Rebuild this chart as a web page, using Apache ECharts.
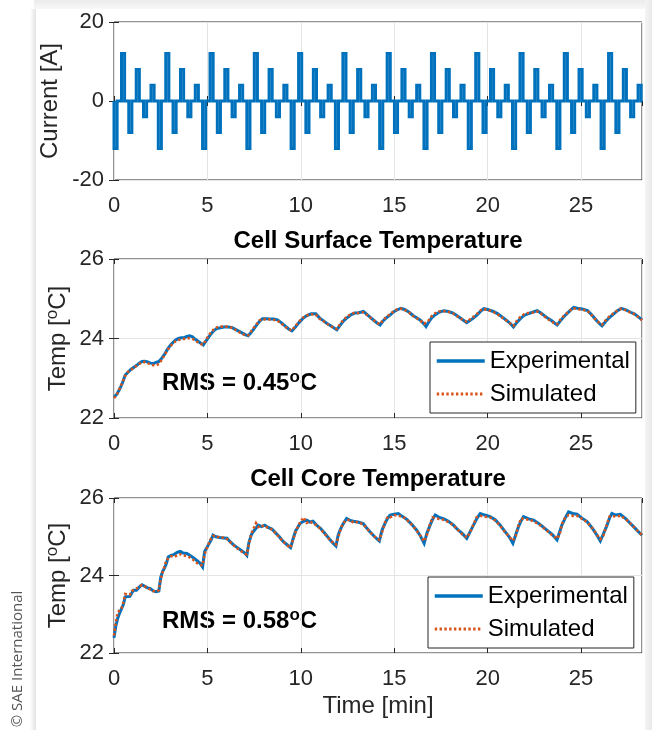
<!DOCTYPE html>
<html><head><meta charset="utf-8">
<script src="https://cdn.jsdelivr.net/npm/echarts@6/dist/echarts.min.js"></script>
<style>html,body{margin:0;padding:0;background:#fff}#c{width:652px;height:730px}</style>
</head><body><div id="c"></div>
<script>
// ---------- DATA ----------
const pulseStart = [0.00,0.40,0.79,1.19,1.58,1.98,2.37,2.77,3.16,3.56,3.95,4.35,
  4.74,5.14,5.53,5.93,6.32,6.72,7.11,7.51,7.90,8.30,8.69,9.09,
  9.48,9.88,10.27,10.67,11.06,11.46,11.85,12.25,12.64,13.04,13.43,13.83,
  14.22,14.62,15.01,15.41,15.80,16.20,16.59,16.99,17.38,17.78,18.17,18.57,
  18.96,19.36,19.75,20.15,20.54,20.94,21.33,21.73,22.12,22.52,22.91,23.31,
  23.70,24.10,24.49,24.89,25.28,25.68,26.07,26.47,26.86,27.26,27.65,28.05];
const pulseAmp = [-12,12,-8,8,-4,4,-12,12,-8,8,-4,4,
  -12,12,-8,8,-4,4,-12,12,-8,8,-4,4,
  -12,12,-8,8,-4,4,-12,12,-8,8,-4,4,
  -12,12,-8,8,-4,4,-12,12,-8,8,-4,4,
  -12,12,-8,8,-4,4,-12,12,-8,8,-4,4,
  -12,12,-8,8,-4,4,-12,12,-8,8,-4,4];
const pulseDuration = 0.167;
const tEnd = 28.26;

const tSurf = [0.00,0.15,0.30,0.45,0.60,0.75,0.90,1.05,1.20,1.35,1.50,1.65,1.80,1.95,2.10,2.25,2.40,2.55,2.70,2.85,
  3.00,3.15,3.30,3.45,3.60,3.75,3.90,4.05,4.20,4.35,4.50,4.65,4.78,4.90,5.05,5.20,5.35,5.50,5.70,5.90,
  6.10,6.30,6.50,6.70,6.90,7.05,7.18,7.30,7.45,7.60,7.80,7.95,8.15,8.35,8.55,8.75,8.95,9.15,9.35,9.52,
  9.70,9.90,10.10,10.30,10.55,10.80,11.00,11.20,11.40,11.60,11.80,11.93,12.10,12.30,12.50,12.70,12.90,13.10,13.35,13.55,
  13.75,13.95,14.10,14.24,14.40,14.60,14.80,15.00,15.20,15.35,15.55,15.80,16.00,16.20,16.40,16.60,16.70,16.85,17.00,17.20,
  17.40,17.65,17.90,18.15,18.40,18.65,18.88,19.05,19.25,19.45,19.65,19.80,20.00,20.30,20.55,20.80,21.00,21.20,21.38,21.55,
  21.75,21.95,22.15,22.40,22.65,22.85,23.05,23.25,23.45,23.60,23.72,23.90,24.10,24.30,24.45,24.60,24.80,25.05,25.35,25.60,
  25.85,26.00,26.12,26.30,26.50,26.75,26.95,27.15,27.40,27.65,27.85,28.05,28.26];
const surfExp = [22.52,22.60,22.72,22.88,23.08,23.15,23.22,23.27,23.32,23.38,23.42,23.43,23.41,23.38,23.37,23.40,23.42,23.50,23.60,23.72,
  23.82,23.90,23.96,24.00,24.02,24.02,24.05,24.07,24.04,23.98,23.93,23.88,23.84,23.92,24.02,24.12,24.20,24.25,24.27,24.29,
  24.29,24.28,24.23,24.18,24.13,24.09,24.07,24.13,24.22,24.32,24.44,24.50,24.50,24.49,24.49,24.47,24.40,24.32,24.24,24.19,
  24.28,24.40,24.50,24.57,24.62,24.62,24.52,24.45,24.38,24.32,24.26,24.22,24.33,24.45,24.53,24.60,24.64,24.65,24.68,24.60,
  24.52,24.44,24.38,24.34,24.44,24.53,24.60,24.68,24.73,24.76,24.73,24.66,24.58,24.52,24.46,24.36,24.30,24.42,24.52,24.60,
  24.66,24.70,24.68,24.64,24.56,24.48,24.40,24.45,24.52,24.60,24.70,24.75,24.73,24.68,24.62,24.53,24.46,24.38,24.29,24.40,
  24.50,24.58,24.62,24.66,24.70,24.64,24.57,24.50,24.44,24.38,24.34,24.45,24.56,24.65,24.72,24.78,24.76,24.74,24.70,24.58,
  24.44,24.37,24.32,24.42,24.52,24.62,24.70,24.76,24.72,24.66,24.62,24.55,24.47];
const surfSim = [22.50,22.58,22.74,22.90,23.06,23.16,23.21,23.26,23.31,23.36,23.40,23.41,23.38,23.35,23.33,23.32,23.36,23.46,23.58,23.70,
  23.80,23.88,23.93,23.96,23.98,23.99,24.00,24.01,23.99,23.95,23.90,23.86,23.85,23.95,24.06,24.16,24.23,24.28,24.30,24.30,
  24.30,24.27,24.22,24.16,24.11,24.08,24.08,24.15,24.25,24.34,24.46,24.49,24.48,24.48,24.47,24.45,24.38,24.30,24.23,24.20,
  24.31,24.42,24.52,24.58,24.61,24.60,24.50,24.44,24.37,24.31,24.26,24.24,24.36,24.48,24.56,24.62,24.65,24.64,24.66,24.59,
  24.51,24.44,24.39,24.36,24.46,24.55,24.62,24.70,24.74,24.75,24.72,24.65,24.57,24.51,24.45,24.37,24.33,24.46,24.56,24.64,
  24.68,24.69,24.67,24.63,24.55,24.47,24.42,24.48,24.55,24.63,24.72,24.74,24.72,24.67,24.60,24.52,24.45,24.38,24.32,24.44,
  24.54,24.61,24.64,24.65,24.68,24.63,24.55,24.48,24.42,24.37,24.36,24.48,24.58,24.66,24.72,24.76,24.74,24.73,24.69,24.57,
  24.44,24.38,24.35,24.45,24.55,24.64,24.71,24.75,24.71,24.65,24.61,24.54,24.46];

const tCore = [0.00,0.10,0.20,0.30,0.40,0.50,0.60,0.70,0.85,0.95,1.05,1.20,1.35,1.50,1.65,1.80,1.95,2.10,2.25,2.40,
  2.50,2.60,2.70,2.80,2.90,3.05,3.20,3.40,3.55,3.70,3.90,4.05,4.25,4.45,4.60,4.74,4.85,4.95,5.05,5.20,
  5.30,5.45,5.65,5.85,6.05,6.20,6.40,6.60,6.80,7.00,7.11,7.22,7.35,7.45,7.60,7.72,7.90,8.07,8.25,8.45,
  8.65,8.85,9.05,9.25,9.45,9.50,9.62,9.72,9.85,9.95,10.15,10.31,10.50,10.65,10.84,11.05,11.30,11.55,11.75,11.88,
  12.00,12.10,12.25,12.45,12.65,12.81,13.05,13.34,13.50,13.70,13.95,14.20,14.35,14.50,14.65,14.78,15.00,15.22,15.45,15.67,
  15.90,16.20,16.40,16.60,16.75,16.92,17.05,17.19,17.40,17.63,17.90,18.17,18.40,18.65,18.88,19.05,19.24,19.40,19.60,19.85,
  20.13,20.40,20.67,20.90,21.15,21.35,21.50,21.65,21.80,21.92,22.20,22.46,22.80,23.17,23.45,23.71,23.85,23.97,24.15,24.33,
  24.55,24.78,25.05,25.32,25.60,25.85,26.03,26.20,26.39,26.52,26.65,26.85,27.10,27.40,27.60,27.81,28.05,28.26];
const coreExp = [22.39,22.70,22.90,23.03,23.08,23.25,23.45,23.50,23.46,23.55,23.62,23.62,23.70,23.76,23.72,23.68,23.66,23.60,23.58,23.60,
  23.95,24.10,24.19,24.30,24.48,24.52,24.54,24.60,24.62,24.58,24.57,24.52,24.46,24.38,24.32,24.22,24.62,24.70,24.79,24.92,
  25.04,25.00,24.98,24.97,24.96,24.88,24.79,24.72,24.65,24.58,24.52,24.85,25.05,25.13,25.22,25.30,25.26,25.30,25.24,25.20,
  25.10,25.00,24.88,24.80,24.72,24.70,25.00,25.15,25.25,25.34,25.40,25.43,25.38,25.40,25.30,25.22,25.08,24.93,24.82,24.76,
  25.05,25.17,25.32,25.47,25.42,25.40,25.38,25.34,25.24,25.13,25.00,24.89,25.18,25.34,25.48,25.56,25.58,25.60,25.52,25.45,
  25.34,25.17,25.02,24.83,25.10,25.30,25.45,25.56,25.50,25.47,25.40,25.30,25.18,25.08,24.96,25.12,25.30,25.45,25.60,25.56,
  25.52,25.44,25.30,25.15,25.00,24.83,25.05,25.26,25.42,25.52,25.46,25.43,25.32,25.17,25.06,24.92,25.12,25.30,25.48,25.64,
  25.60,25.58,25.48,25.39,25.22,25.04,24.89,25.08,25.30,25.48,25.60,25.56,25.58,25.46,25.36,25.26,25.14,25.04];
const coreSim = [22.45,22.80,23.05,23.00,23.15,23.30,23.52,23.48,23.50,23.60,23.60,23.66,23.72,23.75,23.72,23.67,23.64,23.60,23.58,23.62,
  23.90,24.08,24.22,24.40,24.45,24.50,24.48,24.52,24.55,24.52,24.50,24.47,24.40,24.32,24.28,24.26,24.55,24.68,24.80,24.96,
  25.02,25.03,24.97,24.98,24.94,24.87,24.78,24.70,24.63,24.56,24.55,24.80,25.08,25.12,25.35,25.25,25.30,25.24,25.25,25.18,
  25.10,24.98,24.88,24.78,24.72,24.74,24.98,25.12,25.28,25.32,25.50,25.36,25.40,25.34,25.30,25.20,25.06,24.92,24.84,24.80,
  24.98,25.15,25.35,25.42,25.44,25.36,25.38,25.32,25.24,25.12,25.00,24.92,25.12,25.36,25.52,25.50,25.56,25.54,25.52,25.44,
  25.33,25.16,25.02,24.88,25.05,25.34,25.50,25.48,25.46,25.44,25.38,25.30,25.18,25.06,24.98,25.10,25.32,25.50,25.54,25.52,
  25.50,25.42,25.28,25.14,25.00,24.90,25.02,25.30,25.48,25.46,25.44,25.40,25.30,25.16,25.04,24.95,25.06,25.32,25.50,25.56,
  25.54,25.54,25.46,25.38,25.22,25.05,24.94,25.04,25.34,25.52,25.54,25.52,25.54,25.45,25.36,25.26,25.14,25.04];

const xTicks = [0, 5, 10, 15, 20, 25];
const titles = ['Cell Surface Temperature', 'Cell Core Temperature'];
const rmsTexts = ['0.45', '0.58'];

// ---------- BUILD ----------
const FONT = '"Liberation Sans", Arial, Helvetica, sans-serif';
const AX = '#262626';
const BLUE = '#0072BD', ORANGE = '#D95319';

const currentPoints = [[0, 0]];
for (let i = 0; i < pulseStart.length; i++) {
  const s = pulseStart[i], e = s + pulseDuration;
  currentPoints.push([s, 0], [s, pulseAmp[i]], [e, pulseAmp[i]], [e, 0]);
}
currentPoints.push([tEnd, 0]);

const zip = (t, v) => t.map((x, i) => [x, v[i]]);

const grids = [
  {left: 114, right: 10, top: 22, height: 158},
  {left: 114, right: 10, top: 259, height: 159},
  {left: 114, right: 10, top: 498, height: 155}
].map(g => Object.assign({show: true, borderColor: AX, borderWidth: 1, backgroundColor: 'transparent'}, g));

const tick = {show: true, inside: true, length: 5, lineStyle: {color: AX, width: 1}};
const xAxis = [], yAxis = [];
for (let gi = 0; gi < 3; gi++) {
  xAxis.push({
    type: 'value', gridIndex: gi, min: 0, max: tEnd, interval: 5, position: 'bottom',
    axisLine: {show: false}, axisTick: tick,
    axisLabel: {fontSize: 22, color: AX, fontFamily: FONT, margin: 15, showMaxLabel: false,
      formatter: v => xTicks.indexOf(v) >= 0 ? String(v) : ''},
    splitLine: {show: true, lineStyle: {color: '#e4e4e4', width: 1}},
    name: gi === 2 ? 'Time [min]' : '', nameLocation: 'middle', nameGap: 41, nameMoveOverlap: false,
    nameTextStyle: {fontSize: 24, color: AX, fontFamily: FONT}
  });
  xAxis.push({
    type: 'value', gridIndex: gi, min: 0, max: tEnd, interval: 5, position: 'top',
    axisLine: {show: false}, axisTick: tick, axisLabel: {show: false}, splitLine: {show: false}
  });
  const isCur = gi === 0;
  yAxis.push({
    type: 'value', gridIndex: gi, position: 'left',
    min: isCur ? -20 : 22, max: isCur ? 20 : 26, interval: isCur ? 20 : 2,
    axisLine: {show: false}, axisTick: tick,
    axisLabel: {fontSize: 22, color: AX, fontFamily: FONT, margin: 10},
    splitLine: {show: true, lineStyle: {color: '#e4e4e4', width: 1}},
    name: isCur ? 'Current [A]' : 'Temp [{s|o}C]', nameLocation: 'middle', nameGap: isCur ? 50 : 42,
    nameMoveOverlap: false,
    nameTextStyle: {fontSize: 24, color: AX, fontFamily: FONT, lineHeight: 28,
      rich: {s: {fontSize: 17, color: AX, fontFamily: FONT, lineHeight: 10, verticalAlign: 'top'}}}
  });
  yAxis.push({
    type: 'value', gridIndex: gi, position: 'right',
    min: isCur ? -20 : 22, max: isCur ? 20 : 26, interval: isCur ? 20 : 2,
    axisLine: {show: false}, axisTick: tick, axisLabel: {show: false}, splitLine: {show: false}
  });
}

const lineSeries = (name, xi, data, color, width, dash) => ({
  type: 'line', name, xAxisIndex: xi, yAxisIndex: xi, data, symbol: 'none', showSymbol: false,
  animation: false, clip: true, itemStyle: {color},
  lineStyle: {color, width, type: dash || 'solid', join: 'miter', cap: 'butt'}, z: dash ? 3 : 2
});

const series = [
  lineSeries('Current', 0, currentPoints, BLUE, 3),
  lineSeries('Experimental', 2, zip(tSurf, surfExp), BLUE, 3),
  lineSeries('Simulated', 2, zip(tSurf, surfSim), ORANGE, 2.6, [2.4, 2.4]),
  lineSeries('Experimental', 4, zip(tCore, coreExp), BLUE, 3),
  lineSeries('Simulated', 4, zip(tCore, coreSim), ORANGE, 2.6, [2.4, 2.4])
];

const legendBase = {
  data: [
    {name: 'Experimental', lineStyle: {color: BLUE, width: 3.5, type: 'solid'}},
    {name: 'Simulated', lineStyle: {color: ORANGE, width: 3, type: [2.4, 2.4]}}
  ],
  orient: 'vertical', itemWidth: 48, itemHeight: 14, itemGap: 9,
  padding: [7, 6, 7, 5], backgroundColor: '#fff', borderColor: AX, borderWidth: 1, borderRadius: 0,
  itemStyle: {opacity: 0, borderWidth: 0},
  textStyle: {fontSize: 24, color: '#000', fontFamily: FONT}, selectedMode: false
};
const legend = [
  Object.assign({left: 430, top: 342}, legendBase),
  Object.assign({left: 428, top: 577}, legendBase)
];

const LG = echarts.graphic.LinearGradient;
const richRMS = {b: {fontSize: 24, fontWeight: 'bold', fontFamily: FONT, fill: '#000', lineHeight: 28},
                 s: {fontSize: 17, fontWeight: 'bold', fontFamily: FONT, fill: '#000', lineHeight: 10, verticalAlign: 'top'}};
const graphic = [
  {type: 'rect', silent: true, z: -1, shape: {x: 34, y: 0, width: 618, height: 9},
    style: {fill: new LG(0, 0, 0, 1, [{offset: 0, color: '#ebebeb'}, {offset: 1, color: '#f8f8f8'}])}},
  {type: 'rect', silent: true, z: -1, shape: {x: 645, y: 0, width: 7, height: 730},
    style: {fill: new LG(0, 0, 1, 0, [{offset: 0, color: '#f4f4f4'}, {offset: 1, color: '#e9e9e9'}])}},
  {type: 'rect', silent: true, z: -1, shape: {x: 30, y: 9, width: 6, height: 721},
    style: {fill: new LG(0, 0, 1, 0, [{offset: 0, color: '#ffffff'}, {offset: 1, color: '#e3e3e3'}])}},
  {type: 'text', x: 378, y: 241, style: {text: titles[0], align: 'center', verticalAlign: 'middle',
    fontSize: 24, fontWeight: 'bold', fontFamily: FONT, fill: '#000'}},
  {type: 'text', x: 378, y: 479, style: {text: titles[1], align: 'center', verticalAlign: 'middle',
    fontSize: 24, fontWeight: 'bold', fontFamily: FONT, fill: '#000'}},
  {type: 'text', x: 162, y: 383, style: {text: '{b|RMS = ' + rmsTexts[0] + '}{s|o}{b|C}', align: 'left',
    verticalAlign: 'middle', rich: richRMS}},
  {type: 'text', x: 162, y: 621, style: {text: '{b|RMS = ' + rmsTexts[1] + '}{s|o}{b|C}', align: 'left',
    verticalAlign: 'middle', rich: richRMS}},
  {type: 'text', x: 18, y: 659, rotation: Math.PI / 2, style: {text: '\u00A9 SAE International', align: 'center',
    verticalAlign: 'middle', fontSize: 15, fontFamily: '"Open Sans", "Noto Sans", sans-serif', fill: '#555'}}
];

const chart = echarts.init(document.getElementById('c'), null, {renderer: 'canvas'});
chart.setOption({animation: false, backgroundColor: '#fff', grid: grids, xAxis, yAxis, series, legend, graphic});
</script>
</body></html>
